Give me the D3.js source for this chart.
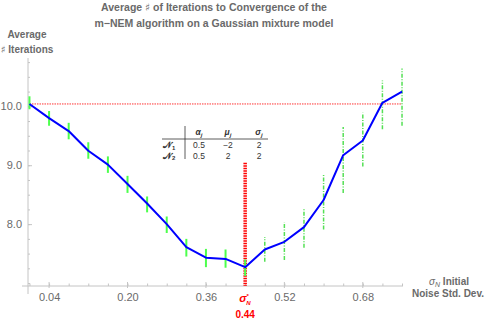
<!DOCTYPE html>
<html>
<head>
<meta charset="utf-8">
<script src="https://cdn.jsdelivr.net/npm/d3@7"></script>
<style>
  body { margin: 0; background: #fff; }
  svg text { font-family: "Liberation Sans", Arial, sans-serif; }
  .sharp { font-family: "DejaVu Sans", sans-serif; font-weight: normal; }
</style>
</head>
<body>
<svg id="chart" width="485" height="322"></svg>
<script>
// noise std. dev. (x) and average number of iterations (y)
var noiseSD  = [0.00, 0.04, 0.08, 0.12, 0.16, 0.20, 0.24, 0.28, 0.32, 0.36,
                0.40, 0.44, 0.48, 0.52, 0.56, 0.60, 0.64, 0.68, 0.72, 0.76];
var avgIter  = [10.04, 9.80, 9.58, 9.245, 9.01, 8.68, 8.35, 8.00, 7.61, 7.43,
                7.41, 7.27, 7.57, 7.70, 7.95, 8.41, 9.17, 9.42, 10.06, 10.25];
// spread of the runs (low / high end of each green bar)
var iterLow  = [9.95, 9.67, 9.44, 9.11, 8.87, 8.53, 8.20, 7.85, 7.45, 7.27,
                7.26, 7.12, 7.36, 7.39, 7.60, 7.91, 8.53, 8.98, 9.61, 9.67];
var iterHigh = [10.17, 9.92, 9.72, 9.39, 9.15, 8.82, 8.47, 8.13, 7.75, 7.58,
                7.57, 7.40, 7.78, 8.03, 8.27, 8.86, 9.65, 9.89, 10.44, 10.64];

var xTickLabels = [0.04, 0.20, 0.36, 0.52, 0.68];
var yTickLabels = [8.0, 9.0, 10.0];

var optimalSD = 0.44;      // sigma_N*
var optimalTop = 9.04;     // top of the red marker line
var noNoiseIter = 10.04;   // red reference line (no noise)

var tableHead = ["α", "μ", "σ"];
var tableRows = [
  { name: "𝒩", sub: "1", vals: ["0.5", "−2", "2"] },
  { name: "𝒩", sub: "2", vals: ["0.5", "2", "2"] }
];

var svg = d3.select("#chart");
var gray = "#6a6a6a";

var x = d3.scaleLinear().domain([-0.003, 0.762]).range([28, 403]);
var y = d3.scaleLinear().domain([6.95, 10.82]).range([286, 58]);

//タイトル
var title = svg.append("g")
  .attr("font-size", "10.5px")
  .attr("font-weight", "bold")
  .attr("fill", gray)
  .attr("text-anchor", "middle");
var t1 = title.append("text").attr("x", 214).attr("y", 11);
t1.append("tspan").text("Average ");
t1.append("tspan").attr("class", "sharp").text("♯");
t1.append("tspan").text(" of Iterations to Convergence of the");
title.append("text").attr("x", 214).attr("y", 27)
  .text("m−NEM algorithm on a Gaussian mixture model");

//軸
var axes = svg.append("g").attr("stroke", "#c4c4c4").attr("fill", "none");
axes.append("line").attr("x1", x.range()[0]).attr("x2", x.range()[0])
  .attr("y1", 58).attr("y2", 294);
axes.append("line").attr("x1", 22).attr("x2", x.range()[1])
  .attr("y1", y.range()[0]).attr("y2", y.range()[0]);

var yAxis = svg.append("g")
  .attr("transform", "translate(" + x.range()[0] + ",0)")
  .call(d3.axisLeft(y).tickValues(d3.range(7.0, 10.8, 0.25)).tickSize(3).tickFormat(""));
yAxis.select(".domain").remove();
yAxis.selectAll(".tick line").attr("stroke", "#c4c4c4").attr("x2", 2);

var yMajor = svg.append("g")
  .attr("transform", "translate(" + x.range()[0] + ",0)")
  .call(d3.axisLeft(y).tickValues(yTickLabels).tickSize(4).tickPadding(2).tickFormat(d3.format(".1f")));
yMajor.select(".domain").remove();
yMajor.selectAll(".tick line").attr("stroke", "#c4c4c4").attr("x2", 4);
yMajor.selectAll("text").attr("fill", gray).attr("font-size", "11px")
  .attr("font-family", "Liberation Sans, Arial, sans-serif");

var xAxis = svg.append("g")
  .attr("transform", "translate(0," + y.range()[0] + ")")
  .call(d3.axisTop(x).tickValues(noiseSD).tickSize(2.5).tickFormat(""));
xAxis.select(".domain").remove();
xAxis.selectAll(".tick line").attr("stroke", "#c4c4c4");

var xMajor = svg.append("g")
  .attr("transform", "translate(0," + y.range()[0] + ")")
  .call(d3.axisBottom(x).tickValues(xTickLabels).tickSize(0).tickPadding(7).tickFormat(d3.format(".2f")));
xMajor.select(".domain").remove();
xMajor.selectAll("text").attr("fill", gray).attr("font-size", "11px")
  .attr("font-family", "Liberation Sans, Arial, sans-serif");
svg.append("g").selectAll("line").data(xTickLabels).join("line")
  .attr("x1", function(d) { return x(d); }).attr("x2", function(d) { return x(d); })
  .attr("y1", y.range()[0] - 4).attr("y2", y.range()[0] + 2)
  .attr("stroke", "#c4c4c4");

//軸ラベル
var labels = svg.append("g")
  .attr("font-size", "10px").attr("font-weight", "bold")
  .attr("fill", gray).attr("text-anchor", "middle");
labels.append("text").attr("x", 27).attr("y", 38).text("Average");
var yl = labels.append("text").attr("x", 27).attr("y", 53);
yl.append("tspan").attr("class", "sharp").text("♯");
yl.append("tspan").text(" Iterations");
var xl = labels.append("text").attr("x", 449).attr("y", 285);
xl.append("tspan").attr("font-style", "italic").attr("font-weight", "normal").text("σ");
xl.append("tspan").attr("font-style", "italic").attr("font-weight", "normal")
  .attr("font-size", "7px").attr("dy", 2).text("N");
xl.append("tspan").attr("dy", -2).text(" Initial");
labels.append("text").attr("x", 448).attr("y", 297).text("Noise Std. Dev.");

//基準線（ノイズなし）
svg.append("line")
  .attr("x1", x(noiseSD[0])).attr("x2", x(noiseSD[noiseSD.length - 1]))
  .attr("y1", y(noNoiseIter)).attr("y2", y(noNoiseIter))
  .attr("stroke", "#f33").attr("stroke-width", 1)
  .attr("stroke-dasharray", "1.5,1");

//最適ノイズの線
svg.append("line")
  .attr("x1", x(optimalSD)).attr("x2", x(optimalSD))
  .attr("y1", y(optimalTop)).attr("y2", y.range()[0])
  .attr("stroke", "#f00").attr("stroke-width", 3.5)
  .attr("stroke-dasharray", "1.5,1");

//エラーバー
var bars = noiseSD.map(function(d, i) {
  return { sd: d, lo: iterLow[i], hi: iterHigh[i] };
});
svg.append("g").selectAll("line").data(bars).join("line")
  .attr("x1", function(d) { return x(d.sd); })
  .attr("x2", function(d) { return x(d.sd); })
  .attr("y1", function(d) { return y(d.lo); })
  .attr("y2", function(d) { return y(d.hi); })
  .attr("stroke", function(d) { return d.sd > optimalSD ? "#55e055" : "#4dff4d"; })
  .attr("stroke-width", function(d) { return d.sd > optimalSD ? 1.5 : 2; })
  .attr("stroke-dasharray", function(d) { return d.sd > optimalSD ? "4,1.5,1,1.5" : null; });

//平均の線
var line = d3.line()
  .x(function(d, i) { return x(noiseSD[i]); })
  .y(function(d) { return y(d); });
svg.append("path").datum(avgIter)
  .attr("d", line)
  .attr("fill", "none")
  .attr("stroke", "#00f")
  .attr("stroke-width", 2)
  .attr("stroke-linejoin", "round");

//σ_N* ラベル
var ox = x(optimalSD);
var opt = svg.append("g").attr("fill", "#f00").attr("font-weight", "bold");
opt.append("text").attr("x", ox - 6).attr("y", 302).attr("font-size", "11px")
  .attr("font-style", "italic").text("σ");
opt.append("text").attr("x", ox + 1).attr("y", 298).attr("font-size", "6px")
  .attr("font-style", "italic").text("*");
opt.append("text").attr("x", ox + 1).attr("y", 305).attr("font-size", "6px")
  .attr("font-style", "italic").text("N");
opt.append("text").attr("x", ox).attr("y", 318).attr("font-size", "10px")
  .attr("text-anchor", "middle")
  .text(d3.format(".2f")(optimalSD));

//パラメータ表
var tbl = svg.append("g").attr("font-size", "8.5px").attr("fill", "#333");
var colX = [199, 228, 259];
tbl.append("line").attr("x1", 185).attr("x2", 185).attr("y1", 126).attr("y2", 159)
  .attr("stroke", "#333").attr("stroke-width", 0.8);
tbl.append("line").attr("x1", 162).attr("x2", 268).attr("y1", 139).attr("y2", 139)
  .attr("stroke", "#333").attr("stroke-width", 0.8);
tableHead.forEach(function(h, j) {
  var t = tbl.append("text").attr("x", colX[j]).attr("y", 135)
    .attr("text-anchor", "middle").attr("font-weight", "bold").attr("font-style", "italic");
  t.append("tspan").text(h);
  t.append("tspan").attr("font-size", "6px").attr("dy", 2).text("j");
});
tableRows.forEach(function(r, i) {
  var yy = 148 + i * 10.5;
  var t = tbl.append("text").attr("x", 163).attr("y", yy).attr("font-weight", "bold");
  t.append("tspan").text(r.name);
  t.append("tspan").attr("font-size", "6px").attr("dy", 1.5).text(r.sub);
  r.vals.forEach(function(v, j) {
    tbl.append("text").attr("x", colX[j]).attr("y", yy)
      .attr("text-anchor", "middle").text(v);
  });
});
</script>
</body>
</html>
